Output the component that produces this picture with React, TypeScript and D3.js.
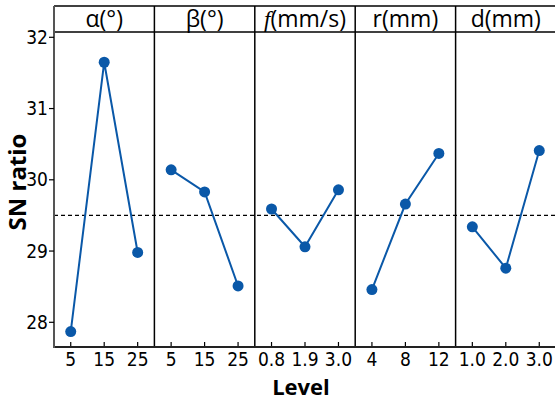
import { useEffect, useRef } from "react"
import * as d3 from "d3"

// factor names shown in panel headers
const factors = ["α(°)", "β(°)", "f(mm/s)", "r(mm)", "d(mm)"]

// levels (x tick labels) per factor
const levelAlpha = ["5", "15", "25"]
const levelBeta = ["5", "15", "25"]
const levelF = ["0.8", "1.9", "3.0"]
const levelR = ["4", "8", "12"]
const levelD = ["1.0", "2.0", "3.0"]

// mean SN ratio per level
const snAlpha = [27.87, 31.65, 28.98]
const snBeta = [30.14, 29.83, 28.51]
const snF = [29.59, 29.06, 29.86]
const snR = [28.46, 29.66, 30.37]
const snD = [29.34, 28.76, 30.41]

const yTicks = [28, 29, 30, 31, 32]
const meanSN = 29.5

const levels = [levelAlpha, levelBeta, levelF, levelR, levelD]
const values = [snAlpha, snBeta, snF, snR, snD]

const W = 555
const H = 400

export default function App() {
  const svgRef = useRef<SVGSVGElement>(null)

  useEffect(() => {
    if (!svgRef.current) return
    const svg = d3.select(svgRef.current)
    svg.selectAll("*").remove()

    const left = 54
    const right = 556
    const top = 6
    const headerBottom = 32
    const bottom = 347
    const panelW = (right - left) / factors.length
    const blue = "#0a58a8"
    const tickFont = "'Liberation Sans Narrow', 'DejaVu Sans Condensed', sans-serif"

    const y = d3.scaleLinear().domain([28, 32]).range([322.3, 37.3])

    // dashed mean line
    svg
      .append("line")
      .attr("x1", left)
      .attr("x2", right)
      .attr("y1", y(meanSN))
      .attr("y2", y(meanSN))
      .attr("stroke", "#000")
      .attr("stroke-width", 1.3)
      .attr("stroke-dasharray", "4,3")

    factors.forEach((name, i) => {
      const x0 = left + i * panelW
      const x = d3
        .scalePoint<string>()
        .domain(levels[i])
        .range([x0, x0 + panelW])
        .padding(0.5)

      // header label
      svg
        .append("text")
        .attr("x", x0 + panelW / 2)
        .attr("y", 27)
        .attr("text-anchor", "middle")
        .style("font-family", "'Open Sans', sans-serif")
        .style("font-size", "23px")
        .attr("fill", "#000")
        .html(
          name.startsWith("f")
            ? `<tspan font-style="italic" font-family="'Liberation Serif', serif">f</tspan>${name.slice(1)}`
            : name
        )

      // bottom axis ticks (inward) and labels
      const g = svg.append("g")
      levels[i].forEach((lv) => {
        g.append("line")
          .attr("x1", x(lv)!)
          .attr("x2", x(lv)!)
          .attr("y1", bottom)
          .attr("y2", bottom - 5)
          .attr("stroke", "#000")
          .attr("stroke-width", 1.2)
        g.append("text")
          .attr("x", x(lv)!)
          .attr("y", 366)
          .attr("text-anchor", "middle")
          .style("font-family", tickFont)
          .style("font-size", "19px")
          .attr("fill", "#000")
          .text(lv)
      })

      // line + points
      const pts = levels[i].map((lv, j) => [x(lv)!, y(values[i][j])] as [number, number])
      svg
        .append("path")
        .attr("d", d3.line()(pts))
        .attr("fill", "none")
        .attr("stroke", blue)
        .attr("stroke-width", 2)
      svg
        .append("g")
        .selectAll("circle")
        .data(pts)
        .enter()
        .append("circle")
        .attr("cx", (d) => d[0])
        .attr("cy", (d) => d[1])
        .attr("r", 5.5)
        .attr("fill", blue)

      // panel divider
      if (i > 0) {
        svg
          .append("line")
          .attr("x1", x0)
          .attr("x2", x0)
          .attr("y1", top)
          .attr("y2", bottom)
          .attr("stroke", "#000")
          .attr("stroke-width", 1.5)
      }
    })

    // frame lines
    svg.append("line").attr("x1", left).attr("x2", right).attr("y1", top).attr("y2", top).attr("stroke", "#000").attr("stroke-width", 1.5)
    svg.append("line").attr("x1", left).attr("x2", right).attr("y1", headerBottom).attr("y2", headerBottom).attr("stroke", "#000").attr("stroke-width", 1.5)
    svg.append("line").attr("x1", left).attr("x2", right).attr("y1", bottom).attr("y2", bottom).attr("stroke", "#222").attr("stroke-width", 1.8)
    svg.append("line").attr("x1", left).attr("x2", left).attr("y1", top).attr("y2", bottom + 0.9).attr("stroke", "#555").attr("stroke-width", 2)

    // y ticks
    const yAxis = svg.append("g")
    yTicks.forEach((t) => {
      yAxis
        .append("line")
        .attr("x1", left - 5)
        .attr("x2", left)
        .attr("y1", y(t))
        .attr("y2", y(t))
        .attr("stroke", "#000")
        .attr("stroke-width", 1.2)
      yAxis
        .append("text")
        .attr("x", left - 6)
        .attr("y", y(t) + 6.5)
        .attr("text-anchor", "end")
        .style("font-family", tickFont)
        .style("font-size", "19px")
        .attr("fill", "#000")
        .text(t)
    })

    // axis titles
    svg
      .append("text")
      .attr("transform", `translate(26, 182) rotate(-90)`)
      .attr("text-anchor", "middle")
      .style("font-family", "'Open Sans', sans-serif")
      .style("font-weight", "bold")
      .style("font-size", "24px")
      .attr("fill", "#000")
      .text("SN ratio")

    svg
      .append("text")
      .attr("x", 301)
      .attr("y", 395)
      .attr("text-anchor", "middle")
      .style("font-family", "'Open Sans', sans-serif")
      .style("font-weight", "bold")
      .style("font-size", "22px")
      .attr("fill", "#000")
      .text("Level")
  }, [])

  return (
    <div style={{ position: "absolute", left: 0, top: 0, width: W, height: H, background: "#fff" }}>
      <svg ref={svgRef} width={W} height={H}></svg>
    </div>
  )
}
